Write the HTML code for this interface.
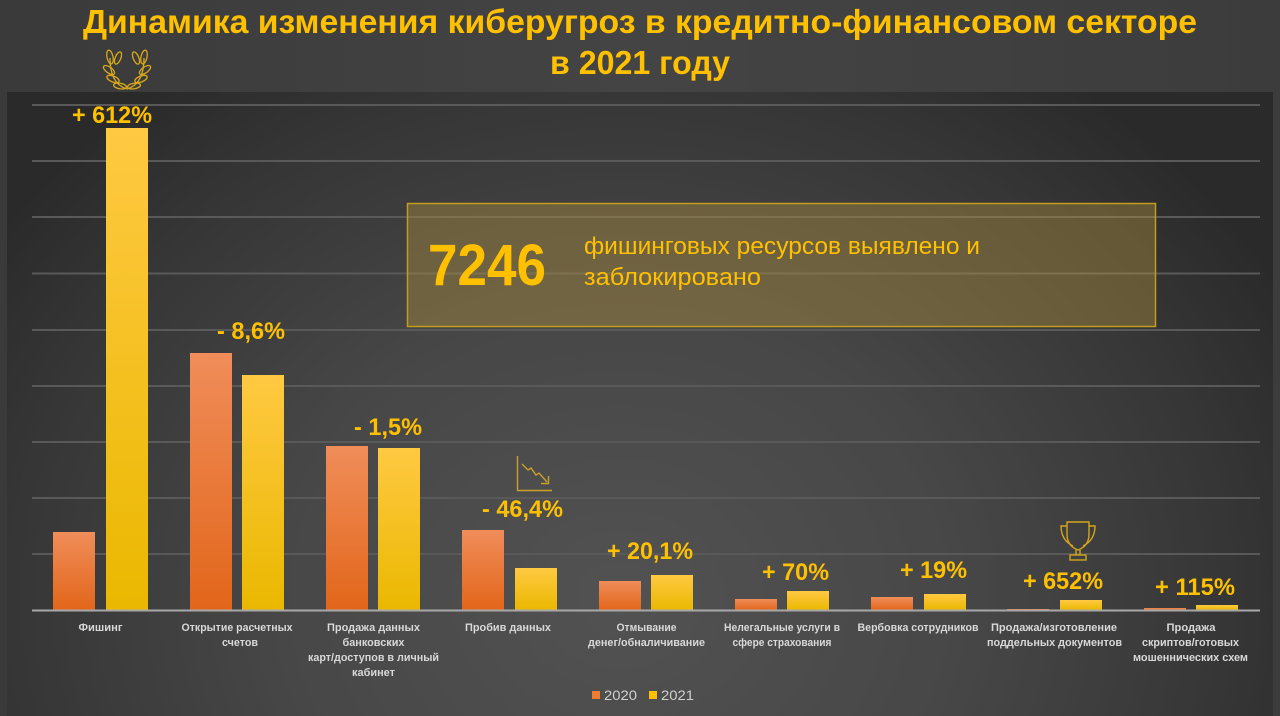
<!DOCTYPE html>
<html><head><meta charset="utf-8">
<style>
html,body{margin:0;padding:0;background:#3f3f3f;}
svg{display:block;}
</style></head>
<body>
<svg width="1280" height="716" viewBox="0 0 1280 716" xmlns="http://www.w3.org/2000/svg">
<defs>
  <linearGradient id="outer" x1="0" y1="0" x2="1" y2="0">
    <stop offset="0" stop-color="#3a3a3a"/>
    <stop offset="0.5" stop-color="#444444"/>
    <stop offset="1" stop-color="#3c3c3c"/>
  </linearGradient>
  <radialGradient id="panel" cx="620" cy="600" r="760" gradientUnits="userSpaceOnUse" gradientTransform="translate(620 600) scale(1 0.85) translate(-620 -600)">
    <stop offset="0" stop-color="#525252"/>
    <stop offset="0.45" stop-color="#474747"/>
    <stop offset="0.8" stop-color="#363636"/>
    <stop offset="1" stop-color="#2a2a2a"/>
  </radialGradient>
  <linearGradient id="org" x1="0" y1="0" x2="0" y2="1">
    <stop offset="0" stop-color="#F08D5A"/>
    <stop offset="1" stop-color="#E2661A"/>
  </linearGradient>
  <linearGradient id="yel" x1="0" y1="0" x2="0" y2="1">
    <stop offset="0" stop-color="#FFC942"/>
    <stop offset="1" stop-color="#EAB800"/>
  </linearGradient>
</defs>

<rect x="0" y="0" width="1280" height="716" fill="url(#outer)"/>
<rect x="7" y="92" width="1266" height="624" fill="url(#panel)"/>

<!-- title -->
<g font-family="Liberation Sans, sans-serif" font-weight="bold" fill="#FFC000" font-size="33">
  <text x="83" y="33" textLength="1114" lengthAdjust="spacingAndGlyphs">Динамика изменения киберугроз в кредитно-финансовом секторе</text>
  <text x="550" y="74" textLength="180" lengthAdjust="spacingAndGlyphs">в 2021 году</text>
</g>

<!-- gridlines -->
<g stroke="#595959" stroke-width="2">
  <line x1="32" y1="105" x2="1260" y2="105"/>
  <line x1="32" y1="161" x2="1260" y2="161"/>
  <line x1="32" y1="217" x2="1260" y2="217"/>
  <line x1="32" y1="273.5" x2="1260" y2="273.5"/>
  <line x1="32" y1="330" x2="1260" y2="330"/>
  <line x1="32" y1="386" x2="1260" y2="386"/>
  <line x1="32" y1="442" x2="1260" y2="442"/>
  <line x1="32" y1="498" x2="1260" y2="498"/>
  <line x1="32" y1="554" x2="1260" y2="554"/>
</g>

<!-- info box -->
<rect x="407.5" y="203.5" width="748" height="123" fill="rgba(190,155,60,0.36)" stroke="#C29D1F" stroke-width="1.5"/>
<text x="428" y="285" font-family="Liberation Sans, sans-serif" font-weight="bold" font-size="58" fill="#FFC000" textLength="118" lengthAdjust="spacingAndGlyphs">7246</text>
<g font-family="Liberation Sans, sans-serif" font-size="24" fill="#FFC000">
  <text x="584" y="254" textLength="396" lengthAdjust="spacingAndGlyphs">фишинговых ресурсов выявлено и</text>
  <text x="584" y="285" textLength="177" lengthAdjust="spacingAndGlyphs">заблокировано</text>
</g>

<!-- bars -->
<g>
  <rect x="53" y="532" width="42" height="78" fill="url(#org)"/>
  <rect x="106" y="128" width="42" height="482" fill="url(#yel)"/>

  <rect x="190" y="353" width="42" height="257" fill="url(#org)"/>
  <rect x="242" y="375" width="42" height="235" fill="url(#yel)"/>

  <rect x="326" y="446" width="42" height="164" fill="url(#org)"/>
  <rect x="378" y="448" width="42" height="162" fill="url(#yel)"/>

  <rect x="462" y="530" width="42" height="80" fill="url(#org)"/>
  <rect x="515" y="568" width="42" height="42" fill="url(#yel)"/>

  <rect x="599" y="581" width="42" height="29" fill="url(#org)"/>
  <rect x="651" y="575" width="42" height="35" fill="url(#yel)"/>

  <rect x="735" y="599" width="42" height="11" fill="url(#org)"/>
  <rect x="787" y="591" width="42" height="19" fill="url(#yel)"/>

  <rect x="871" y="597" width="42" height="13" fill="url(#org)"/>
  <rect x="924" y="594" width="42" height="16" fill="url(#yel)"/>

  <rect x="1007" y="609" width="42" height="1" fill="url(#org)"/>
  <rect x="1060" y="600" width="42" height="10" fill="url(#yel)"/>

  <rect x="1144" y="608" width="42" height="2" fill="url(#org)"/>
  <rect x="1196" y="605" width="42" height="5" fill="url(#yel)"/>
</g>

<!-- baseline -->
<line x1="32" y1="610.5" x2="1260" y2="610.5" stroke="#a8a8a8" stroke-width="2"/>

<!-- value labels -->
<g font-family="Liberation Sans, sans-serif" font-weight="bold" font-size="24" fill="#FFC000">
  <text x="72" y="123" textLength="80" lengthAdjust="spacingAndGlyphs">+ 612%</text>
  <text x="217" y="339" textLength="68" lengthAdjust="spacingAndGlyphs">- 8,6%</text>
  <text x="354" y="435" textLength="68" lengthAdjust="spacingAndGlyphs">- 1,5%</text>
  <text x="482" y="517" textLength="81" lengthAdjust="spacingAndGlyphs">- 46,4%</text>
  <text x="607" y="559" textLength="86" lengthAdjust="spacingAndGlyphs">+ 20,1%</text>
  <text x="762" y="580" textLength="67" lengthAdjust="spacingAndGlyphs">+ 70%</text>
  <text x="900" y="578" textLength="67" lengthAdjust="spacingAndGlyphs">+ 19%</text>
  <text x="1023" y="589" textLength="80" lengthAdjust="spacingAndGlyphs">+ 652%</text>
  <text x="1155" y="595" textLength="80" lengthAdjust="spacingAndGlyphs">+ 115%</text>
</g>

<!-- category labels -->
<g font-family="Liberation Sans, sans-serif" font-weight="bold" font-size="11" fill="#d8d8d8" text-anchor="middle">
  <text x="100.5" y="631" textLength="44" lengthAdjust="spacingAndGlyphs">Фишинг</text>

  <text x="237" y="631" textLength="111" lengthAdjust="spacingAndGlyphs">Открытие расчетных</text>
  <text x="240" y="646" textLength="36" lengthAdjust="spacingAndGlyphs">счетов</text>

  <text x="373.5" y="631" textLength="93" lengthAdjust="spacingAndGlyphs">Продажа данных</text>
  <text x="373.5" y="646" textLength="62" lengthAdjust="spacingAndGlyphs">банковских</text>
  <text x="373.5" y="661" textLength="131" lengthAdjust="spacingAndGlyphs">карт/доступов в личный</text>
  <text x="373.5" y="676" textLength="43" lengthAdjust="spacingAndGlyphs">кабинет</text>

  <text x="508" y="631" textLength="86" lengthAdjust="spacingAndGlyphs">Пробив данных</text>

  <text x="646.5" y="631" textLength="60" lengthAdjust="spacingAndGlyphs">Отмывание</text>
  <text x="646.5" y="646" textLength="117" lengthAdjust="spacingAndGlyphs">денег/обналичивание</text>

  <text x="782" y="631" textLength="116" lengthAdjust="spacingAndGlyphs">Нелегальные услуги в</text>
  <text x="782" y="646" textLength="99" lengthAdjust="spacingAndGlyphs">сфере страхования</text>

  <text x="918" y="631" textLength="121" lengthAdjust="spacingAndGlyphs">Вербовка сотрудников</text>

  <text x="1054" y="631" textLength="126" lengthAdjust="spacingAndGlyphs">Продажа/изготовление</text>
  <text x="1054.5" y="646" textLength="135" lengthAdjust="spacingAndGlyphs">поддельных документов</text>

  <text x="1191" y="631" textLength="49" lengthAdjust="spacingAndGlyphs">Продажа</text>
  <text x="1190.5" y="646" textLength="97" lengthAdjust="spacingAndGlyphs">скриптов/готовых</text>
  <text x="1190.5" y="661" textLength="115" lengthAdjust="spacingAndGlyphs">мошеннических схем</text>
</g>

<!-- legend -->
<rect x="592" y="691" width="8" height="8" fill="#ED7D31"/>
<text x="604" y="700" font-family="Liberation Sans, sans-serif" font-size="14" fill="#d0d0d0" textLength="33" lengthAdjust="spacingAndGlyphs">2020</text>
<rect x="649" y="691" width="8" height="8" fill="#FFC000"/>
<text x="661" y="700" font-family="Liberation Sans, sans-serif" font-size="14" fill="#d0d0d0" textLength="33" lengthAdjust="spacingAndGlyphs">2021</text>

<!-- laurel icon -->
<g fill="none" stroke="#D9A91A" stroke-width="1.3">
  <path d="M127,89 Q110,84 110,58"/>
  <path d="M127,89 Q144,84 144,58"/>
  <ellipse cx="110" cy="57" rx="3" ry="7" transform="rotate(-12 110 57)"/>
  <ellipse cx="118" cy="58" rx="2.8" ry="6.5" transform="rotate(22 118 58)"/>
  <ellipse cx="109" cy="70" rx="3" ry="6.5" transform="rotate(-55 109 70)"/>
  <ellipse cx="113" cy="79" rx="3" ry="6.5" transform="rotate(-68 113 79)"/>
  <ellipse cx="120" cy="86" rx="2.8" ry="6.5" transform="rotate(-80 120 86)"/>
  <ellipse cx="144" cy="57" rx="3" ry="7" transform="rotate(12 144 57)"/>
  <ellipse cx="136" cy="58" rx="2.8" ry="6.5" transform="rotate(-22 136 58)"/>
  <ellipse cx="145" cy="70" rx="3" ry="6.5" transform="rotate(55 145 70)"/>
  <ellipse cx="141" cy="79" rx="3" ry="6.5" transform="rotate(68 141 79)"/>
  <ellipse cx="134" cy="86" rx="2.8" ry="6.5" transform="rotate(80 134 86)"/>
</g>

<!-- trend-down icon -->
<g fill="none" stroke="#C9A02A" stroke-width="1.4">
  <path d="M517.5,456 V490.5 H552"/>
  <path d="M522,464 L528,470 L531,468 L536,475 L539,473 L547,482"/>
  <path d="M541,483.5 H548.5 V476"/>
</g>

<!-- trophy icon -->
<g fill="none" stroke="#D4A51C" stroke-width="1.4">
  <path d="M1067,522 H1089 V534 Q1089,546 1078,550 Q1067,546 1067,534 Z"/>
  <path d="M1067,526 H1061 Q1061,540 1073,546"/>
  <path d="M1089,526 H1095 Q1095,540 1083,546"/>
  <path d="M1076,550 V555 M1080,550 V555"/>
  <rect x="1070" y="555" width="16" height="5"/>
</g>
</svg>
</body></html>
